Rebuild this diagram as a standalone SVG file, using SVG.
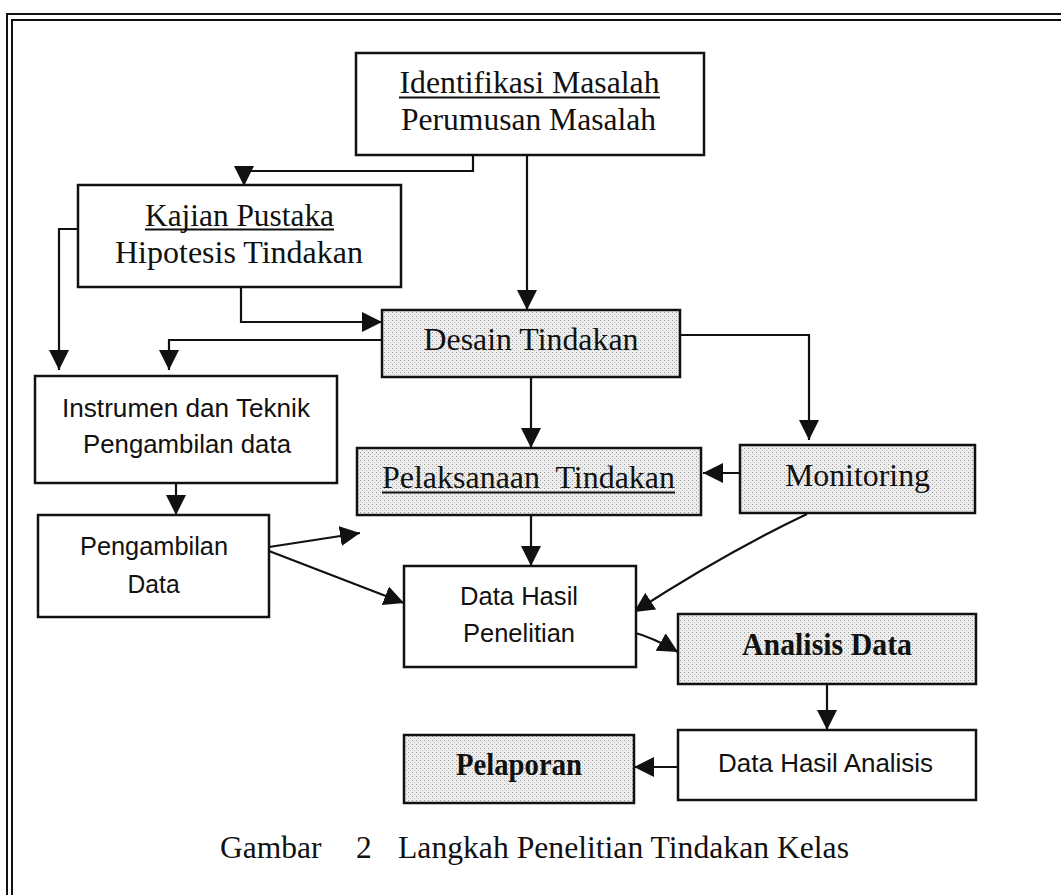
<svg xmlns="http://www.w3.org/2000/svg" width="1061" height="895" viewBox="0 0 1061 895">
<style>
.box{fill:#fff;stroke:#111;stroke-width:2.5}
.shade{fill:url(#dots);stroke:#111;stroke-width:2.5}
.ser{font-family:"Liberation Serif","Times New Roman",serif;font-size:31.5px;fill:#111}
.sans{font-family:"Liberation Sans",Arial,sans-serif;font-size:26px;fill:#111}
.b{font-weight:bold}
.ul{stroke:#111;stroke-width:2}
.arr{fill:none;stroke:#111;stroke-width:2.2;marker-end:url(#ah)}
.frame{stroke:#111;stroke-width:2;fill:none}
</style>
<defs>
<pattern id="dots" width="4" height="4" patternUnits="userSpaceOnUse">
<rect width="4" height="4" fill="#ededed"/>
<rect x="0" y="0" width="1" height="1" fill="#9a9a9a"/>
<rect x="2" y="2" width="1" height="1" fill="#b8b8b8"/>
</pattern>
<marker id="ah" viewBox="0 0 20 20" refX="20" refY="10" markerWidth="20" markerHeight="20" markerUnits="userSpaceOnUse" orient="auto">
<path d="M0,0 L20,10 L0,20 z" fill="#111"/>
</marker>
</defs>
<rect width="1061" height="895" fill="#fff"/>
<g id="frame">
<path class="frame" d="M7,895 V14 H1061"/>
<path class="frame" d="M12,895 V20 H1061"/>
</g>
<g id="connectors">
<path class="arr" d="M473,155 V171 H244 V186"/>
<path class="arr" d="M527,155 V310"/>
<path class="arr" d="M241,287 V322 H382"/>
<path class="arr" d="M127,229 H59 V370"/>
<path class="arr" d="M382,340 H169 V370"/>
<path class="arr" d="M680,335 H809 V440"/>
<path class="arr" d="M531,377 V448"/>
<path class="arr" d="M740,473 H703"/>
<path class="arr" d="M176,483 V515"/>
<path class="arr" d="M269,547 L360,533"/>
<path class="arr" d="M269,551 L404,603"/>
<path class="arr" d="M531,515 V566"/>
<path class="arr" d="M807,514 Q725,553 634,612"/>
<path class="arr" d="M632,632 Q652,637 678,652"/>
<path class="arr" d="M827,684 V730"/>
<path class="arr" d="M678,767 H634"/>
</g>
<g id="identifikasi">
<rect class="box" x="356" y="53" width="348" height="102"/>
<text class="ser" x="529.5" y="93" text-anchor="middle" textLength="260" lengthAdjust="spacingAndGlyphs">Identifikasi Masalah</text>
<line class="ul" x1="399" y1="97.5" x2="660" y2="97.5"/>
<text class="ser" x="528.5" y="130" text-anchor="middle" textLength="255" lengthAdjust="spacingAndGlyphs">Perumusan Masalah</text>
</g>
<g id="kajian">
<rect class="box" x="78" y="185" width="323" height="102"/>
<text class="ser" x="239.5" y="226" text-anchor="middle" textLength="189" lengthAdjust="spacingAndGlyphs">Kajian Pustaka</text>
<line class="ul" x1="145" y1="229.5" x2="334" y2="229.5"/>
<text class="ser" x="239" y="263" text-anchor="middle" textLength="248" lengthAdjust="spacingAndGlyphs">Hipotesis Tindakan</text>
</g>
<g id="desain">
<rect class="shade" x="382" y="310" width="298" height="67"/>
<text class="ser" x="531" y="350" text-anchor="middle" textLength="215" lengthAdjust="spacingAndGlyphs">Desain Tindakan</text>
</g>
<g id="instrumen">
<rect class="box" x="35" y="376" width="302" height="107"/>
<text class="sans" x="186" y="417" text-anchor="middle" textLength="248" lengthAdjust="spacingAndGlyphs">Instrumen dan Teknik</text>
<text class="sans" x="187" y="453" text-anchor="middle" textLength="208" lengthAdjust="spacingAndGlyphs">Pengambilan data</text>
</g>
<g id="pengambilan">
<rect class="box" x="38" y="515" width="231" height="102"/>
<text class="sans" x="154" y="555" text-anchor="middle" textLength="148" lengthAdjust="spacingAndGlyphs">Pengambilan</text>
<text class="sans" x="153.6" y="593" text-anchor="middle" textLength="52" lengthAdjust="spacingAndGlyphs">Data</text>
</g>
<g id="pelaksanaan">
<rect class="shade" x="357" y="448" width="344" height="67"/>
<text class="ser" x="528.5" y="488" text-anchor="middle" textLength="293" lengthAdjust="spacingAndGlyphs">Pelaksanaan&#160; Tindakan</text>
<line class="ul" x1="382" y1="492.5" x2="675" y2="492.5"/>
</g>
<g id="monitoring">
<rect class="shade" x="740" y="445" width="235" height="68"/>
<text class="ser" x="857.5" y="486" text-anchor="middle" textLength="145" lengthAdjust="spacingAndGlyphs">Monitoring</text>
</g>
<g id="datahasil">
<rect class="box" x="404" y="566" width="232" height="101"/>
<text class="sans" x="519" y="605" text-anchor="middle" textLength="118" lengthAdjust="spacingAndGlyphs">Data Hasil</text>
<text class="sans" x="519" y="642" text-anchor="middle" textLength="112" lengthAdjust="spacingAndGlyphs">Penelitian</text>
</g>
<g id="analisis">
<rect class="shade" x="678" y="614" width="298" height="70"/>
<text class="ser b" x="827" y="655" text-anchor="middle" textLength="170" lengthAdjust="spacingAndGlyphs">Analisis Data</text>
</g>
<g id="hasilanalisis">
<rect class="box" x="678" y="730" width="298" height="70"/>
<text class="sans" x="825.6" y="772" text-anchor="middle" textLength="215" lengthAdjust="spacingAndGlyphs">Data Hasil Analisis</text>
</g>
<g id="pelaporan">
<rect class="shade" x="404" y="735" width="230" height="68"/>
<text class="ser b" x="519" y="775" text-anchor="middle" textLength="126" lengthAdjust="spacingAndGlyphs">Pelaporan</text>
</g>
<g id="caption">
<text class="ser" y="858"><tspan x="220">Gambar</tspan><tspan x="356">2</tspan><tspan x="398" textLength="451" lengthAdjust="spacingAndGlyphs">Langkah Penelitian Tindakan Kelas</tspan></text>
</g>
</svg>
